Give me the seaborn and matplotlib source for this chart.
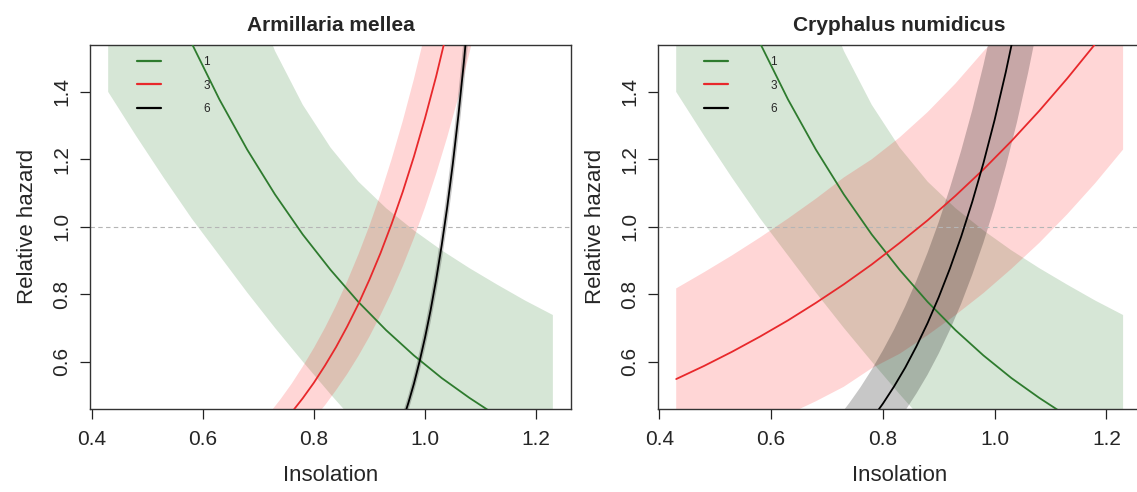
import numpy as np
import pandas as pd
import matplotlib
matplotlib.use("Agg")
import matplotlib.pyplot as plt
import seaborn as sns

# ---------------- data ----------------
titles = ["Armillaria mellea", "Cryphalus numidicus"]
legend_labels = ["1", "3", "6"]
x_ticks = [0.4, 0.6, 0.8, 1.0, 1.2]
y_ticks = [0.6, 0.8, 1.0, 1.2, 1.4]

# group "1" (same in both panels)
x_g = [0.43, 0.48, 0.53, 0.58, 0.63, 0.68, 0.73, 0.78, 0.83, 0.88, 0.93,
       0.98, 1.03, 1.08, 1.13, 1.18, 1.23]
g_fit = [2.178, 1.943, 1.733, 1.545, 1.378, 1.229, 1.096, 0.977, 0.872,
         0.777, 0.693, 0.618, 0.551, 0.492, 0.438, 0.391, 0.349]
g_lo = [1.40, 1.27, 1.145, 1.025, 0.915, 0.805, 0.700, 0.600, 0.503,
        0.41, 0.33, 0.27, 0.22, 0.18, 0.15, 0.12, 0.10]
g_hi = [3.90, 3.29, 2.77, 2.35, 2.00, 1.733, 1.522, 1.362, 1.235, 1.134,
        1.055, 0.989, 0.930, 0.877, 0.828, 0.781, 0.738]

# Armillaria mellea, group "3"
x_a3 = [0.70, 0.72, 0.74, 0.76, 0.78, 0.80, 0.82, 0.84, 0.86, 0.88, 0.90,
        0.92, 0.94, 0.96, 0.98, 1.00, 1.02, 1.04, 1.06, 1.08, 1.10]
a3_fit = [0.343, 0.375, 0.410, 0.449, 0.491, 0.537, 0.588, 0.643, 0.704,
          0.770, 0.843, 0.922, 1.009, 1.104, 1.208, 1.322, 1.446, 1.583,
          1.732, 1.895, 2.073]
a3_lo = [0.274, 0.300, 0.328, 0.359, 0.393, 0.430, 0.470, 0.515, 0.563,
         0.616, 0.674, 0.738, 0.807, 0.883, 0.966, 1.057, 1.157, 1.266,
         1.385, 1.516, 1.658]
a3_hi = [0.408, 0.446, 0.488, 0.534, 0.585, 0.640, 0.700, 0.766, 0.838,
         0.917, 1.003, 1.097, 1.201, 1.314, 1.438, 1.573, 1.721, 1.883,
         2.060, 2.255, 2.467]

# Armillaria mellea, group "6"
x_a6 = [0.94, 0.95, 0.96, 0.97, 0.98, 0.99, 1.00, 1.01, 1.02, 1.03, 1.04,
        1.05, 1.06, 1.07, 1.08, 1.09, 1.10]
a6_fit = [0.339, 0.380, 0.425, 0.477, 0.534, 0.599, 0.671, 0.752, 0.843,
          0.945, 1.059, 1.187, 1.330, 1.490, 1.670, 1.872, 2.098]
a6_lo = [0.322, 0.361, 0.405, 0.454, 0.509, 0.570, 0.639, 0.716, 0.803,
         0.900, 1.008, 1.130, 1.266, 1.419, 1.591, 1.783, 1.998]
a6_hi = [0.356, 0.398, 0.447, 0.500, 0.561, 0.629, 0.705, 0.790, 0.885,
         0.992, 1.112, 1.246, 1.396, 1.565, 1.754, 1.966, 2.203]

# Cryphalus numidicus, group "3"
x_c3 = [0.43, 0.48, 0.53, 0.58, 0.63, 0.68, 0.73, 0.78, 0.83, 0.88, 0.93,
        0.98, 1.03, 1.08, 1.13, 1.18, 1.23]
c3_fit = [0.548, 0.587, 0.629, 0.674, 0.722, 0.774, 0.829, 0.888, 0.952,
          1.019, 1.092, 1.170, 1.254, 1.344, 1.440, 1.542, 1.653]
c3_lo = [0.315, 0.343, 0.374, 0.407, 0.443, 0.482, 0.525, 0.580, 0.623,
         0.678, 0.738, 0.803, 0.875, 0.952, 1.037, 1.129, 1.229]
c3_hi = [0.817, 0.865, 0.915, 0.968, 1.024, 1.083, 1.146, 1.200, 1.265,
         1.340, 1.425, 1.520, 1.608, 1.701, 1.800, 1.904, 2.015]

# Cryphalus numidicus, group "6"
x_c6 = [0.70, 0.72, 0.74, 0.76, 0.78, 0.80, 0.82, 0.84, 0.86, 0.88, 0.90,
        0.92, 0.94, 0.96, 0.98, 1.00, 1.02, 1.04, 1.06, 1.08, 1.10]
c6_fit = [0.285, 0.316, 0.350, 0.387, 0.429, 0.475, 0.526, 0.582, 0.645,
          0.714, 0.791, 0.876, 0.970, 1.074, 1.189, 1.317, 1.459, 1.615,
          1.789, 1.981, 2.193]
c6_lo = [0.216, 0.240, 0.267, 0.297, 0.330, 0.367, 0.408, 0.454, 0.505,
         0.561, 0.624, 0.694, 0.771, 0.858, 0.953, 1.060, 1.179, 1.310,
         1.457, 1.620, 1.801]
c6_hi = [0.395, 0.434, 0.477, 0.524, 0.576, 0.633, 0.695, 0.764, 0.840,
         0.923, 1.014, 1.115, 1.225, 1.346, 1.480, 1.626, 1.787, 1.964,
         2.158, 2.372, 2.607]

# ---------------- style ----------------
sns.set_style("white")
plt.rcParams['font.family'] = ['Liberation Sans', 'DejaVu Sans']

col_line = {"1": "#2e7b2e", "3": "#e8282b", "6": "#000000"}
col_band = {"1": ("#006400", 0.16), "3": ("#ff0000", 0.16), "6": ("#000000", 0.22)}

panels = [
    [("1", x_g, g_fit, g_lo, g_hi), ("3", x_a3, a3_fit, a3_lo, a3_hi),
     ("6", x_a6, a6_fit, a6_lo, a6_hi)],
    [("1", x_g, g_fit, g_lo, g_hi), ("3", x_c3, c3_fit, c3_lo, c3_hi),
     ("6", x_c6, c6_fit, c6_lo, c6_hi)],
]

fig = plt.figure(figsize=(11.37, 4.92), dpi=100)
axes = [fig.add_axes([0.0795, 0.1693, 0.4224, 0.7398]),
        fig.add_axes([0.5790, 0.1693, 0.4245, 0.7398])]

for ax, title, series, lx in zip(axes, titles, panels, [0.097, 0.095]):
    for lab, xs, fit, lo, hi in series:
        c, a = col_band[lab]
        ax.fill_between(xs, lo, hi, color=c, alpha=a, linewidth=0, zorder=1)
    for lab, xs, fit, lo, hi in series:
        df = pd.DataFrame({"x": xs, "y": fit})
        sns.lineplot(data=df, x="x", y="y", ax=ax, color=col_line[lab],
                     linewidth=1.3, label=lab, sort=False, zorder=3)
    ax.axhline(1.0, color="#b5b5b5", linestyle=(0, (4, 3)), linewidth=0.8, zorder=2)
    ax.set_xlim(0.398, 1.262)
    ax.set_ylim(0.46, 1.54)
    ax.set_xticks(x_ticks)
    ax.set_xticklabels([f"{v:.1f}" for v in x_ticks])
    ax.set_yticks(y_ticks)
    ax.set_yticklabels([f"{v:.1f}" for v in y_ticks], rotation=90, va="center")
    ax.tick_params(axis="both", direction="out", length=7, width=0.9,
                   labelsize=15, color="#222222", bottom=True, left=True)
    ax.tick_params(axis="x", pad=8)
    ax.tick_params(axis="y", pad=7)
    for s in ax.spines.values():
        s.set_visible(True)
        s.set_color("#333333")
        s.set_linewidth(1.0)
    ax.set_xlabel("Insolation", fontsize=16, labelpad=12)
    ax.set_ylabel("Relative hazard", fontsize=16, labelpad=10)
    ax.set_title(title, fontsize=15, fontweight="bold", pad=10)
    leg = ax.legend(loc="upper left", bbox_to_anchor=(lx, 0.968), frameon=False,
                    fontsize=8.5, handlelength=2.0, handletextpad=3.6,
                    labelspacing=0.95, borderpad=0, borderaxespad=0)
    for h in leg.get_lines():
        h.set_linewidth(1.6)

fig.savefig("out.png", dpi=100)
